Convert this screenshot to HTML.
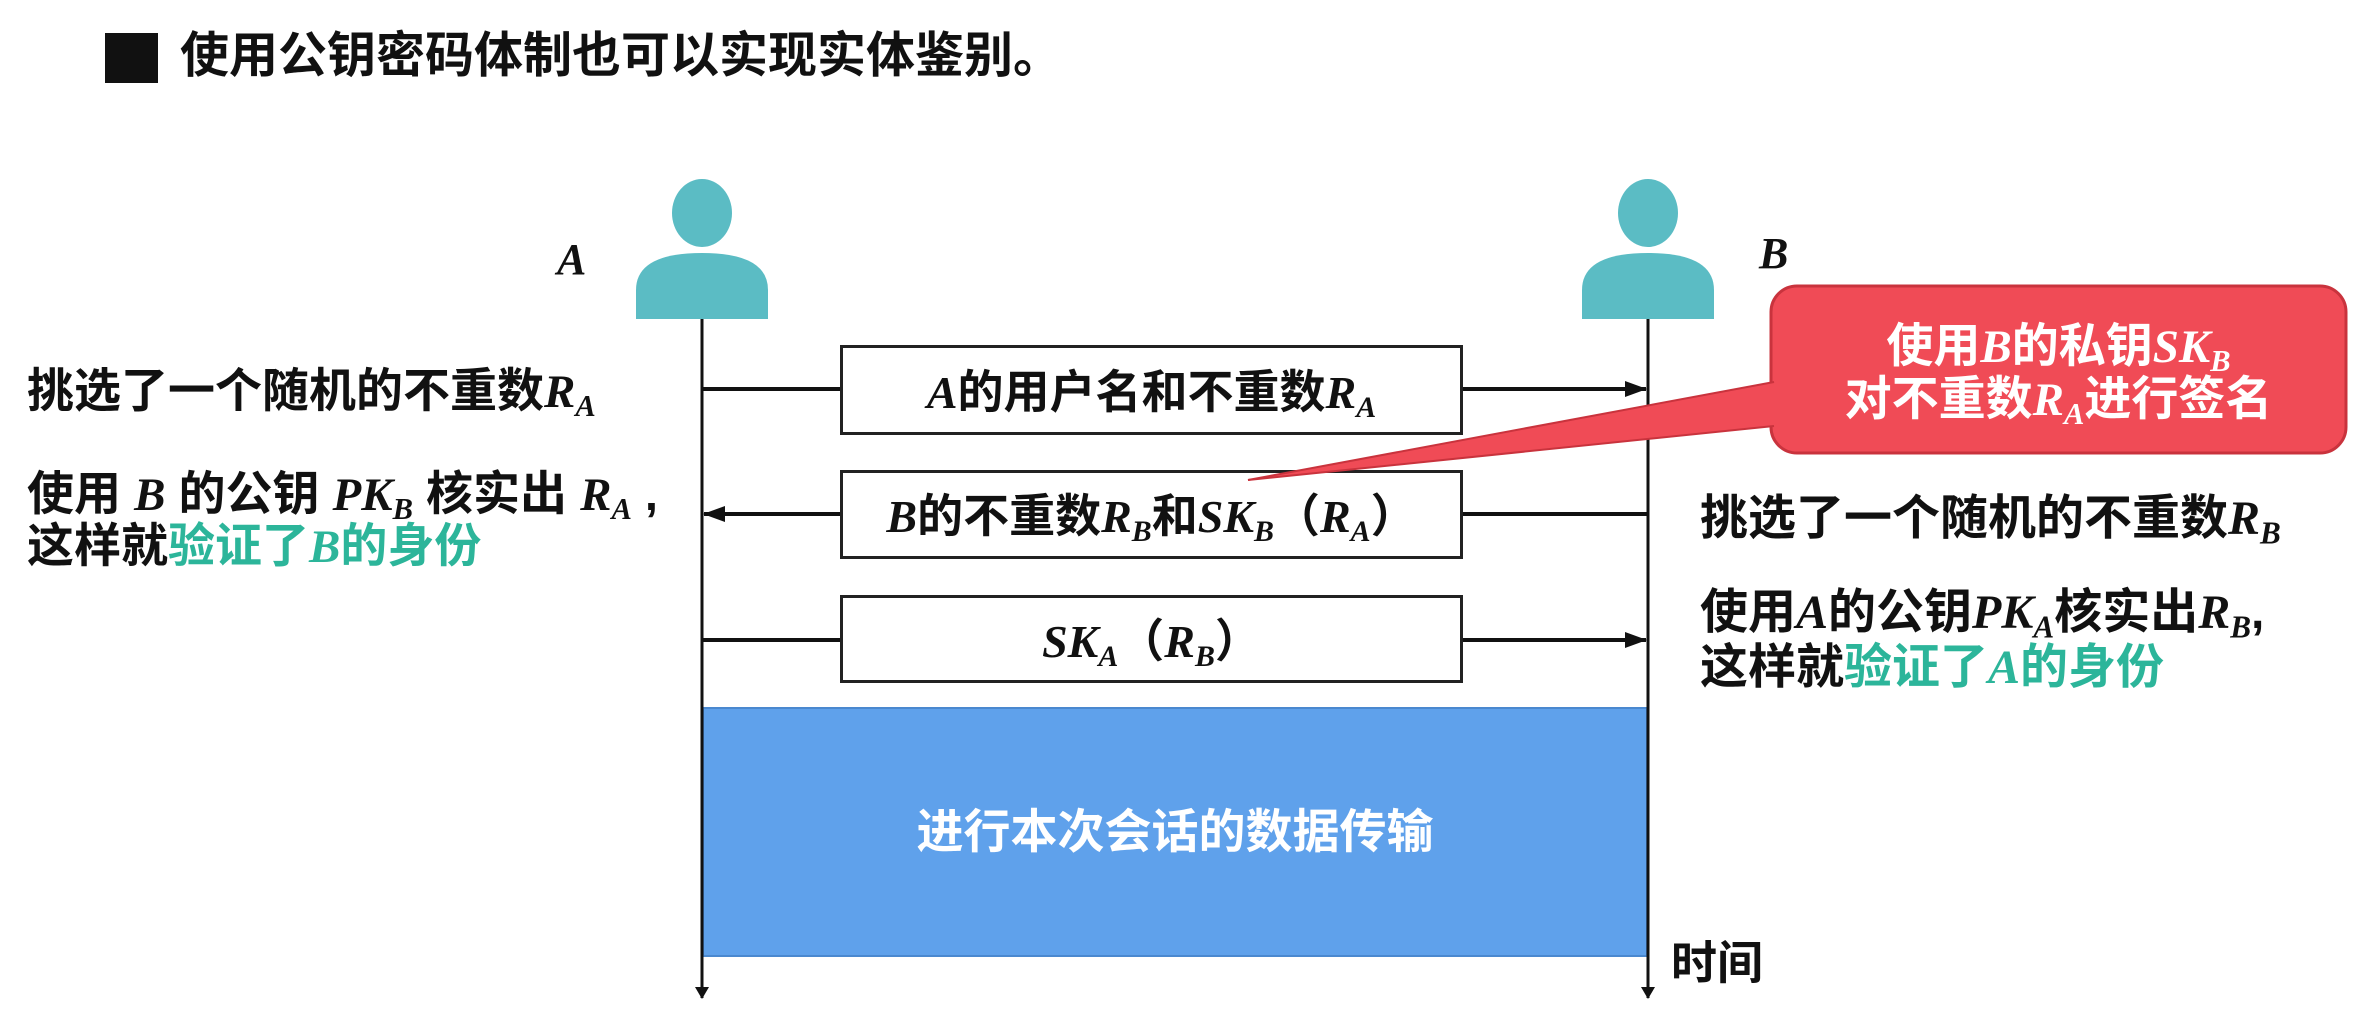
<!DOCTYPE html>
<html><head><meta charset="utf-8"><style>
body{margin:0;width:2360px;height:1028px;background:#fff;position:relative;overflow:hidden;font-family:"Liberation Sans","Noto Sans CJK SC",sans-serif;font-weight:bold;color:#111}
.t{position:absolute;white-space:nowrap;line-height:1}
i{font-family:"Liberation Serif","Noto Sans CJK SC",serif;font-style:italic;font-weight:bold}
sub{font-size:0.65em;vertical-align:-0.3em}
.g{color:#2cb59a}
.box{position:absolute;border:3px solid #222;background:#fff;display:flex;align-items:center;justify-content:center;font-size:46px;box-sizing:border-box}
</style></head><body>
<div style="position:absolute;left:105px;top:33px;width:53px;height:50px;background:#111"></div>
<div class="t" style="left:180px;top:32px;font-size:49px">使用公钥密码体制也可以实现实体鉴别。</div>

<svg width="2360" height="1028" style="position:absolute;left:0;top:0">
<defs><marker id="ah" markerWidth="12" markerHeight="14" refX="11" refY="7" orient="auto" markerUnits="userSpaceOnUse"><path d="M0,0 L12,7 L0,14 z" fill="#111"/></marker>
<marker id="ah2" markerWidth="22" markerHeight="16" refX="21" refY="8" orient="auto" markerUnits="userSpaceOnUse"><path d="M0,0 L22,8 L0,16 z" fill="#111"/></marker></defs>
<rect x="703" y="708" width="944" height="248" fill="#5fa1eb" stroke="#4a88cf" stroke-width="2"/>
<ellipse cx="702" cy="213" rx="30" ry="34" fill="#5bbcc4"/>
<path d="M636,319 L636,290 Q636,253 702,253 Q768,253 768,290 L768,319 Z" fill="#5bbcc4"/>
<ellipse cx="1648" cy="213" rx="30" ry="34" fill="#5bbcc4"/>
<path d="M1582,319 L1582,290 Q1582,253 1648,253 Q1714,253 1714,290 L1714,319 Z" fill="#5bbcc4"/>
<line x1="702" y1="319" x2="702" y2="998" stroke="#111" stroke-width="3" marker-end="url(#ah)"/>
<line x1="1648" y1="319" x2="1648" y2="998" stroke="#111" stroke-width="3" marker-end="url(#ah)"/>
<line x1="702" y1="389" x2="1646" y2="389" stroke="#111" stroke-width="4" marker-end="url(#ah2)"/>
<line x1="1648" y1="514" x2="704" y2="514" stroke="#111" stroke-width="4" marker-end="url(#ah2)"/>
<line x1="702" y1="640" x2="1646" y2="640" stroke="#111" stroke-width="4" marker-end="url(#ah2)"/>
</svg>

<div class="box" style="left:840px;top:345px;width:623px;height:90px"><span><i>A</i>的用户名和不重数<i>R<sub>A</sub></i></span></div>
<div class="box" style="left:840px;top:470px;width:623px;height:89px"><span><i>B</i>的不重数<i>R<sub>B</sub></i>和<i>SK<sub>B</sub></i>（<i>R<sub>A</sub></i>）</span></div>
<div class="box" style="left:840px;top:595px;width:623px;height:88px"><span><i>SK<sub>A</sub></i>（<i>R<sub>B</sub></i>）</span></div>

<svg width="2360" height="1028" style="position:absolute;left:0;top:0">
<rect x="1771" y="286" width="575" height="167" rx="26" fill="#f04b56" stroke="#c9333d" stroke-width="3"/>
<polygon points="1774,382 1774,426 1248,480" fill="#f04b56"/>
<line x1="1774" y1="382" x2="1248" y2="480" stroke="#c9333d" stroke-width="2"/>
<line x1="1774" y1="426" x2="1248" y2="480" stroke="#c9333d" stroke-width="2"/>
</svg>
<div class="t" style="left:1771px;width:575px;text-align:center;top:322px;font-size:47px;color:#fff">使用<i>B</i>的私钥<i>SK<sub>B</sub></i></div>
<div class="t" style="left:1771px;width:575px;text-align:center;top:375px;font-size:47px;color:#fff">对不重数<i>R<sub>A</sub></i>进行签名</div>

<div class="t" style="left:557px;top:238px;font-size:44px"><i>A</i></div>
<div class="t" style="left:1759px;top:232px;font-size:44px"><i>B</i></div>

<div class="t" style="left:27px;top:367px;font-size:47px">挑选了一个随机的不重数<i>R<sub>A</sub></i></div>
<div class="t" style="left:27px;top:470px;font-size:47px">使用 <i>B</i> 的公钥 <i>PK<sub>B</sub></i> 核实出 <i>R<sub>A</sub></i> ,</div>
<div class="t" style="left:27px;top:522px;font-size:47px">这样就<span class="g">验证了<i>B</i>的身份</span></div>

<div class="t" style="left:1700px;top:495px;font-size:48px">挑选了一个随机的不重数<i>R<sub>B</sub></i></div>
<div class="t" style="left:1700px;top:589px;font-size:48px">使用<i>A</i>的公钥<i>PK<sub>A</sub></i>核实出<i>R<sub>B</sub></i>,</div>
<div class="t" style="left:1700px;top:644px;font-size:48px">这样就<span class="g">验证了<i>A</i>的身份</span></div>

<div class="t" style="left:703px;width:944px;text-align:center;top:808px;font-size:47px;color:#fff">进行本次会话的数据传输</div>
<div class="t" style="left:1671px;top:940px;font-size:46px">时间</div>
</body></html>
